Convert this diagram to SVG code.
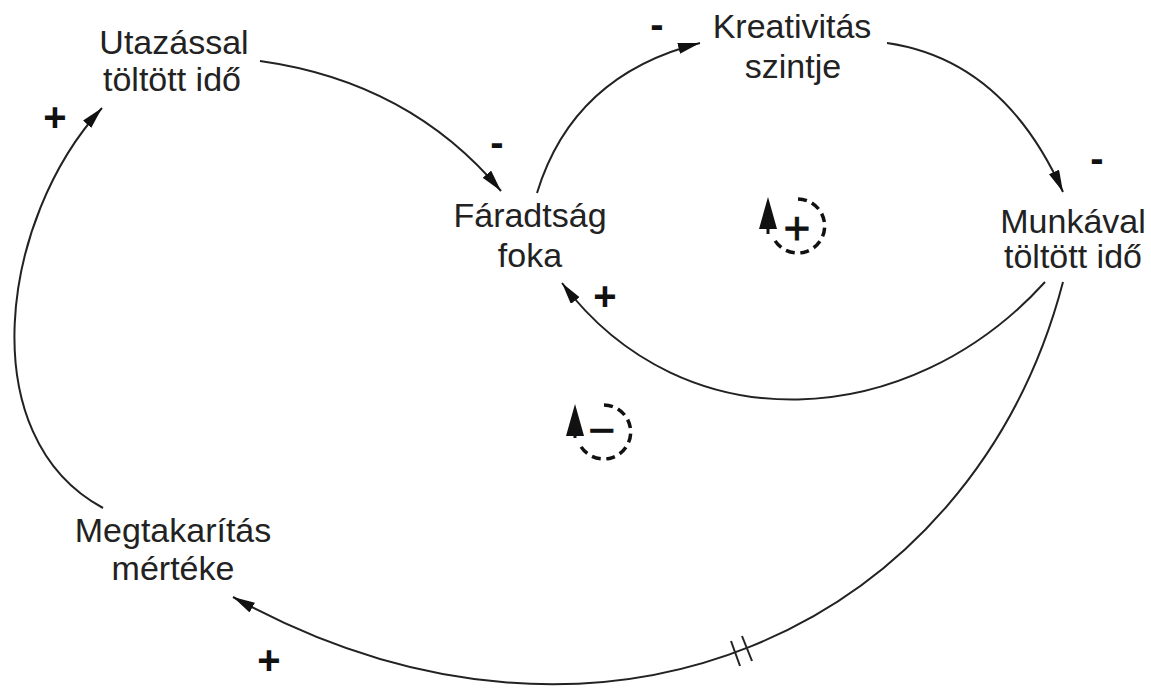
<svg xmlns="http://www.w3.org/2000/svg" width="1151" height="689" viewBox="0 0 1151 689">
<style>
.lbl{font-family:"Liberation Sans",Arial,sans-serif;font-size:34px;fill:#222;text-anchor:middle}
.pol{font-family:"Liberation Sans",Arial,sans-serif;font-size:40px;font-weight:bold;fill:#111;text-anchor:middle}
.lsign{font-family:"Liberation Sans",Arial,sans-serif;fill:#111;text-anchor:middle;stroke:#111;stroke-width:0.8}
.link{fill:none;stroke:#222;stroke-width:2;marker-end:url(#ah)}
.loop{fill:none;stroke:#111;stroke-width:3.5;stroke-dasharray:9 5.5}
.tick{stroke:#222;stroke-width:2}
</style>
<defs>
<marker id="ah" markerUnits="userSpaceOnUse" markerWidth="24" markerHeight="12" refX="22" refY="5.5" orient="auto">
<path d="M0,0 L22,5.5 L0,11 z" fill="#111"/>
</marker>
</defs>
<rect width="1151" height="689" fill="#fff"/>
<g id="connectors">
<path id="c1" class="link" d="M260,61 Q410,82 501,191"/>
<path id="c2" class="link" d="M537,193 Q573,75 700,43"/>
<path id="c3" class="link" d="M887,43 Q1004,60 1063,192"/>
<path id="c4" class="link" d="M1045,282 C909,432 684,445 562,283"/>
<path id="c5" class="link" d="M1063,282 C972,630 600,800 233,597"/>
<path id="c6" class="link" d="M103,508 C-29,437 0,219 102,108"/>
<line class="tick" x1="731" y1="641" x2="740" y2="666"/>
<line class="tick" x1="742" y1="636" x2="752" y2="661"/>
</g>
<g id="polarities">
<text class="pol" x="55" y="131">+</text>
<text class="pol" x="497" y="156">-</text>
<text class="pol" x="657" y="38">-</text>
<text class="pol" x="1097" y="172">-</text>
<text class="pol" x="605" y="310">+</text>
<text class="pol" x="269" y="674">+</text>
</g>
<g id="n-utazassal">
<text class="lbl" x="174" y="54">Utazással</text>
<text class="lbl" x="172" y="91">töltött idő</text>
</g>
<g id="n-faradtsag">
<text class="lbl" x="530" y="227">Fáradtság</text>
<text class="lbl" x="530" y="267">foka</text>
</g>
<g id="n-kreativitas">
<text class="lbl" x="792" y="38">Kreativitás</text>
<text class="lbl" x="793" y="78">szintje</text>
</g>
<g id="n-munkaval">
<text class="lbl" x="1073" y="233">Munkával</text>
<text class="lbl" x="1073" y="268">töltött idő</text>
</g>
<g id="n-megtakaritas">
<text class="lbl" x="173" y="542">Megtakarítás</text>
<text class="lbl" x="173" y="580">mértéke</text>
</g>
<g id="loop-r">
<path class="loop" d="M798,199 A27,27 0 1,1 774,239"/>
<line x1="768" y1="234" x2="768" y2="215" stroke="#111" stroke-width="3"/>
<polygon points="768,197 777,229 759,229" fill="#111"/>
<text class="lsign" x="797" y="244" font-size="46">+</text>
</g>
<g id="loop-b">
<path class="loop" d="M604,405 A27,27 0 1,1 580,445"/>
<line x1="575" y1="438" x2="575" y2="420" stroke="#111" stroke-width="3"/>
<polygon points="575,404 584,436 566,436" fill="#111"/>
<text class="lsign" x="602" y="446" font-size="46">−</text>
</g>
</svg>
